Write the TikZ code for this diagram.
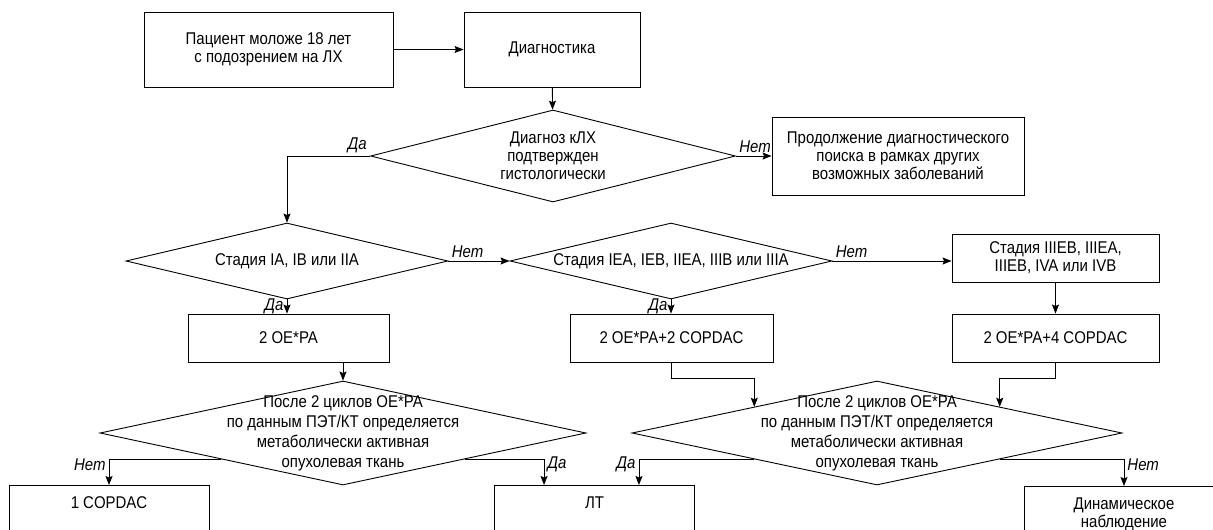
\documentclass[tikz,border=0pt]{standalone}
\usepackage{fontspec}
\setmainfont{Liberation Sans}[FakeStretch=0.88]
\usetikzlibrary{shapes.geometric,arrows.meta}

\begin{document}
\begin{tikzpicture}[
        x=1pt, y=-1pt,
        every node/.style={align=center, font=\fontsize{17}{18}\selectfont},
        block/.style={rectangle, draw, line width=0.9pt, inner sep=2pt}, % прямоугольные блоки
        decision/.style={diamond, draw, line width=0.9pt, inner sep=-4pt}, % ромбы с вопросом
        petcheck/.style={decision, inner sep=-16pt, font=\fontsize{17}{20}\selectfont}, % ромбы ПЭТ/КТ
        outcome/.style={block, anchor=north, minimum width=200pt, inner ysep=11pt, text depth=60pt}, % нижний ряд
        answer/.style={font=\itshape\fontsize{17}{18}\selectfont, inner sep=3pt}, % Да / Нет
        flowline/.style={draw, line width=0.9pt, -{Stealth[length=9pt,width=7pt,inset=1.5pt]}}
    ]
    \useasboundingbox (0,0) rectangle (1213,530);
    \clip (0,0) rectangle (1213,530);

    % первая строка
    \node[block, minimum width=249pt, minimum height=75pt] (patient) at (268.5,49.5) {Пациент моложе 18 лет\\с подозрением на ЛХ};
    \node[block, minimum width=176pt, minimum height=75pt] (diag) at (552,49.5) {Диагностика};
    \node[decision, minimum width=365pt, minimum height=92pt, aspect=3.97] (hist) at (553,156) {Диагноз кЛХ\\подтвержден\\гистологически};
    \node[block, minimum width=252pt, minimum height=78pt] (other) at (898,156) {Продолжение диагностического\\поиска в рамках других\\возможных заболеваний};

    % стадии
    \node[decision, minimum width=322pt, minimum height=76pt, aspect=4.24] (stage1) at (287,261) {Стадия IA, IB или IIA};
    \node[decision, minimum width=322pt, minimum height=76pt, aspect=4.24] (stage2) at (671,261) {Стадия IEA, IEB, IIEA, IIIB или IIIA};
    \node[block, minimum width=207pt, minimum height=48pt] (stage3) at (1055.5,258) {Стадия IIIEB, IIIEA,\\IIIEB, IVA или IVB};

    % химиотерапия
    \node[block, minimum width=201pt, minimum height=48pt] (ch1) at (288.5,338) {2 OE*PA};
    \node[block, minimum width=203pt, minimum height=48pt] (ch2) at (671.5,338) {2 OE*PA+2 COPDAC};
    \node[block, minimum width=207pt, minimum height=48pt] (ch3) at (1055.5,338) {2 OE*PA+4 COPDAC};

    % оценка ответа
    \node[petcheck, minimum width=486pt, minimum height=104pt, aspect=4.67] (pet1) at (343,433) {После 2 циклов OE*PA\\по данным ПЭТ/КТ определяется\\метаболически активная\\опухолевая ткань};
    \node[petcheck, minimum width=490pt, minimum height=104pt, aspect=4.71] (pet2) at (877,433) {После 2 циклов OE*PA\\по данным ПЭТ/КТ определяется\\метаболически активная\\опухолевая ткань};

    % исходы
    \node[outcome] (copdac1) at (109,485) {1 COPDAC};
    \node[outcome] (lt) at (594.5,485) {ЛТ};
    \node[outcome] (dyn) at (1124,486) {Динамическое\\наблюдение};

    % связи
    \draw[flowline] (patient) -- (diag);
    \draw[flowline] (diag) -- (hist);
    \draw[flowline] (hist.east) -- node[answer, pos=0, above right]{Нет} (other);
    \draw[flowline] (hist.west) -| node[answer, pos=0, above left]{Да} (stage1.north);
    \draw[flowline] (stage1.east) -- node[answer, pos=0, above right]{Нет} (stage2.west);
    \draw[flowline] (stage1.south) -- node[answer, left]{Да} (stage1.south |- ch1.north);
    \draw[flowline] (stage2.east) -- node[answer, pos=0, above right]{Нет} (stage2.east -| stage3.west);
    \draw[flowline] (stage2.south) -- node[answer, left]{Да} (stage2.south |- ch2.north);
    \draw[flowline] (stage3) -- (ch3);
    \draw[flowline] (pet1.north |- ch1.south) -- (pet1.north);
    \draw[flowline] (ch2.south) -- ++(0,16) -| (pet2.north west);
    \draw[flowline] (ch3.south) -- ++(0,16) -| (pet2.north east);
    \draw[flowline] (pet1.south west) -| node[answer, pos=0.6, left]{Нет} (copdac1.north);
    \draw[flowline] (pet1.south east) -| node[answer, pos=0.6, right]{Да} ([xshift=50pt]lt.north west);
    \draw[flowline] (pet2.south west) -| node[answer, pos=0.6, left]{Да} ([xshift=-56pt]lt.north east);
    \draw[flowline] (pet2.south east) -| node[answer, pos=0.6, right]{Нет} (dyn.north);
\end{tikzpicture}
\end{document}
